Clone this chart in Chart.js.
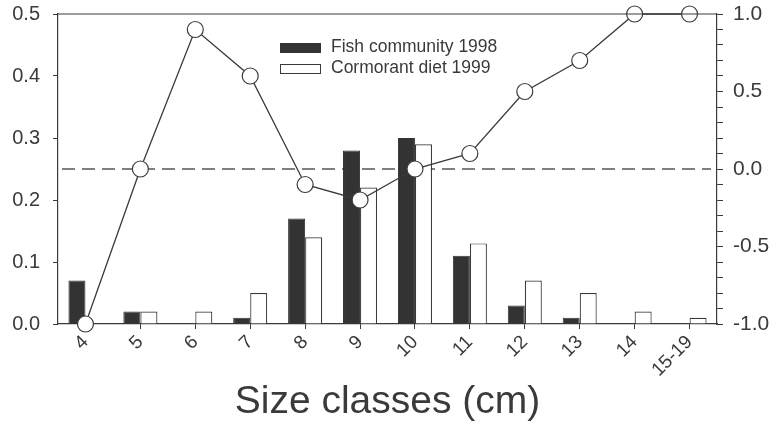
<!DOCTYPE html>
<html>
<head>
<meta charset="utf-8">
<script src="https://cdn.jsdelivr.net/npm/chart.js@4.4.1/dist/chart.umd.min.js"></script>
<style>
  html, body { margin: 0; padding: 0; background: #fff; }
  #wrap { width: 777px; height: 432px; }
</style>
</head>
<body>
<div id="wrap"><canvas id="sizeChart" width="777" height="432"></canvas></div>
<script>
// size classes and values
const sizeClasses = ['4', '5', '6', '7', '8', '9', '10', '11', '12', '13', '14', '15-19'];
const fishCommunity1998 = [0.07, 0.02, 0, 0.01, 0.17, 0.28, 0.30, 0.11, 0.03, 0.01, 0, 0];
const cormorantDiet1999 = [0, 0.02, 0.02, 0.05, 0.14, 0.22, 0.29, 0.13, 0.07, 0.05, 0.02, 0.01];
const selectivity = [-1.0, 0.0, 0.9, 0.6, -0.1, -0.2, 0.0, 0.1, 0.5, 0.7, 1.0, 1.0];
const leftTicks = [0, 0.1, 0.2, 0.3, 0.4, 0.5];
const rightTickLabels = [-1, -0.5, 0, 0.5, 1];

const ink = '#3a3a3a';
const fontFam = 'Arial, "Liberation Sans", sans-serif';

// top border, dashed zero line, legend
const extras = {
    id: 'extras',
    beforeDatasetsDraw(chart) {
        const c = chart.ctx, a = chart.chartArea;
        const y0 = chart.scales.y1.getPixelForValue(0);
        c.save();
        c.strokeStyle = '#555';
        c.lineWidth = 1.6;
        c.setLineDash([13, 7]);
        c.beginPath();
        c.moveTo(a.left + 4, y0);
        c.lineTo(a.right - 6, y0);
        c.stroke();
        c.restore();
    },
    afterDraw(chart) {
        const c = chart.ctx, a = chart.chartArea;
        c.save();
        c.strokeStyle = ink;
        c.lineWidth = 1.2;
        c.beginPath();
        c.moveTo(a.left, a.top);
        c.lineTo(a.right, a.top);
        c.stroke();

        // legend
        const items = [chart.data.datasets[1], chart.data.datasets[2]];
        c.font = '17.5px ' + fontFam;
        c.textBaseline = 'middle';
        items.forEach((ds, i) => {
            const y = 43 + i * 21;
            c.fillStyle = ds.backgroundColor;
            c.fillRect(280, y, 40, 9);
            c.strokeStyle = ds.borderColor;
            c.lineWidth = 1;
            c.strokeRect(280.5, y + 0.5, 40, 9);
            c.fillStyle = ink;
            c.fillText(ds.label, 331, y + 4.5);
        });
        c.restore();
    }
};

new Chart(document.getElementById('sizeChart').getContext('2d'), {
    plugins: [extras],
    data: {
        labels: sizeClasses,
        datasets: [
            {
                type: 'line',
                label: 'Selectivity',
                data: selectivity,
                yAxisID: 'y1',
                borderColor: ink,
                borderWidth: 1.3,
                pointRadius: 8,
                pointBackgroundColor: '#fff',
                pointBorderColor: ink,
                pointBorderWidth: 1.2,
                tension: 0,
                clip: false
            },
            {
                type: 'bar',
                label: 'Fish community 1998',
                data: fishCommunity1998,
                yAxisID: 'y',
                backgroundColor: '#333',
                borderColor: '#333',
                borderWidth: 1,
                barPercentage: 1,
                categoryPercentage: 0.62
            },
            {
                type: 'bar',
                label: 'Cormorant diet 1999',
                data: cormorantDiet1999,
                yAxisID: 'y',
                backgroundColor: '#fff',
                borderColor: ink,
                borderWidth: 1.2,
                barPercentage: 1,
                categoryPercentage: 0.62
            }
        ]
    },
    options: {
        responsive: false,
        animation: false,
        layout: { padding: { top: 14, left: 0, right: 0, bottom: 0 } },
        plugins: {
            legend: { display: false },
            tooltip: { enabled: false }
        },
        scales: {
            x: {
                offset: true,
                grid: { offset: false, drawOnChartArea: false, color: ink, tickLength: 5 },
                border: { color: ink, width: 1.2 },
                ticks: {
                    color: ink,
                    font: { size: 19, family: fontFam },
                    minRotation: 45,
                    maxRotation: 45,
                    padding: 2
                },
                title: {
                    display: true,
                    text: 'Size classes (cm)',
                    color: ink,
                    font: { size: 39, family: fontFam },
                    padding: { top: 0, bottom: 6 }
                },
                afterFit(scale) { scale.height = 108; }
            },
            y: {
                position: 'left',
                min: 0,
                max: 0.5,
                afterBuildTicks(scale) { scale.ticks = leftTicks.map(v => ({ value: v })); },
                grid: { drawOnChartArea: false, color: ink, tickLength: 5 },
                border: { color: ink, width: 1.2 },
                ticks: {
                    color: ink,
                    font: { size: 20, family: fontFam },
                    padding: 13,
                    callback: v => v.toFixed(1)
                },
                afterFit(scale) {
                    scale.width = 58;
                    scale.paddingTop = 0;
                    scale.paddingBottom = 0;
                }
            },
            y1: {
                position: 'right',
                min: -1,
                max: 1,
                ticks: {
                    stepSize: 0.1,
                    color: ink,
                    font: { size: 21, family: fontFam },
                    padding: 10,
                    autoSkip: false,
                    callback: v => rightTickLabels.some(t => Math.abs(t - v) < 1e-6) ? v.toFixed(1) : ''
                },
                grid: { drawOnChartArea: false, color: ink, tickLength: 6 },
                border: { color: ink, width: 1.2 },
                afterFit(scale) {
                    scale.width = 60;
                    scale.paddingTop = 0;
                    scale.paddingBottom = 0;
                }
            }
        }
    }
});
</script>
</body>
</html>
